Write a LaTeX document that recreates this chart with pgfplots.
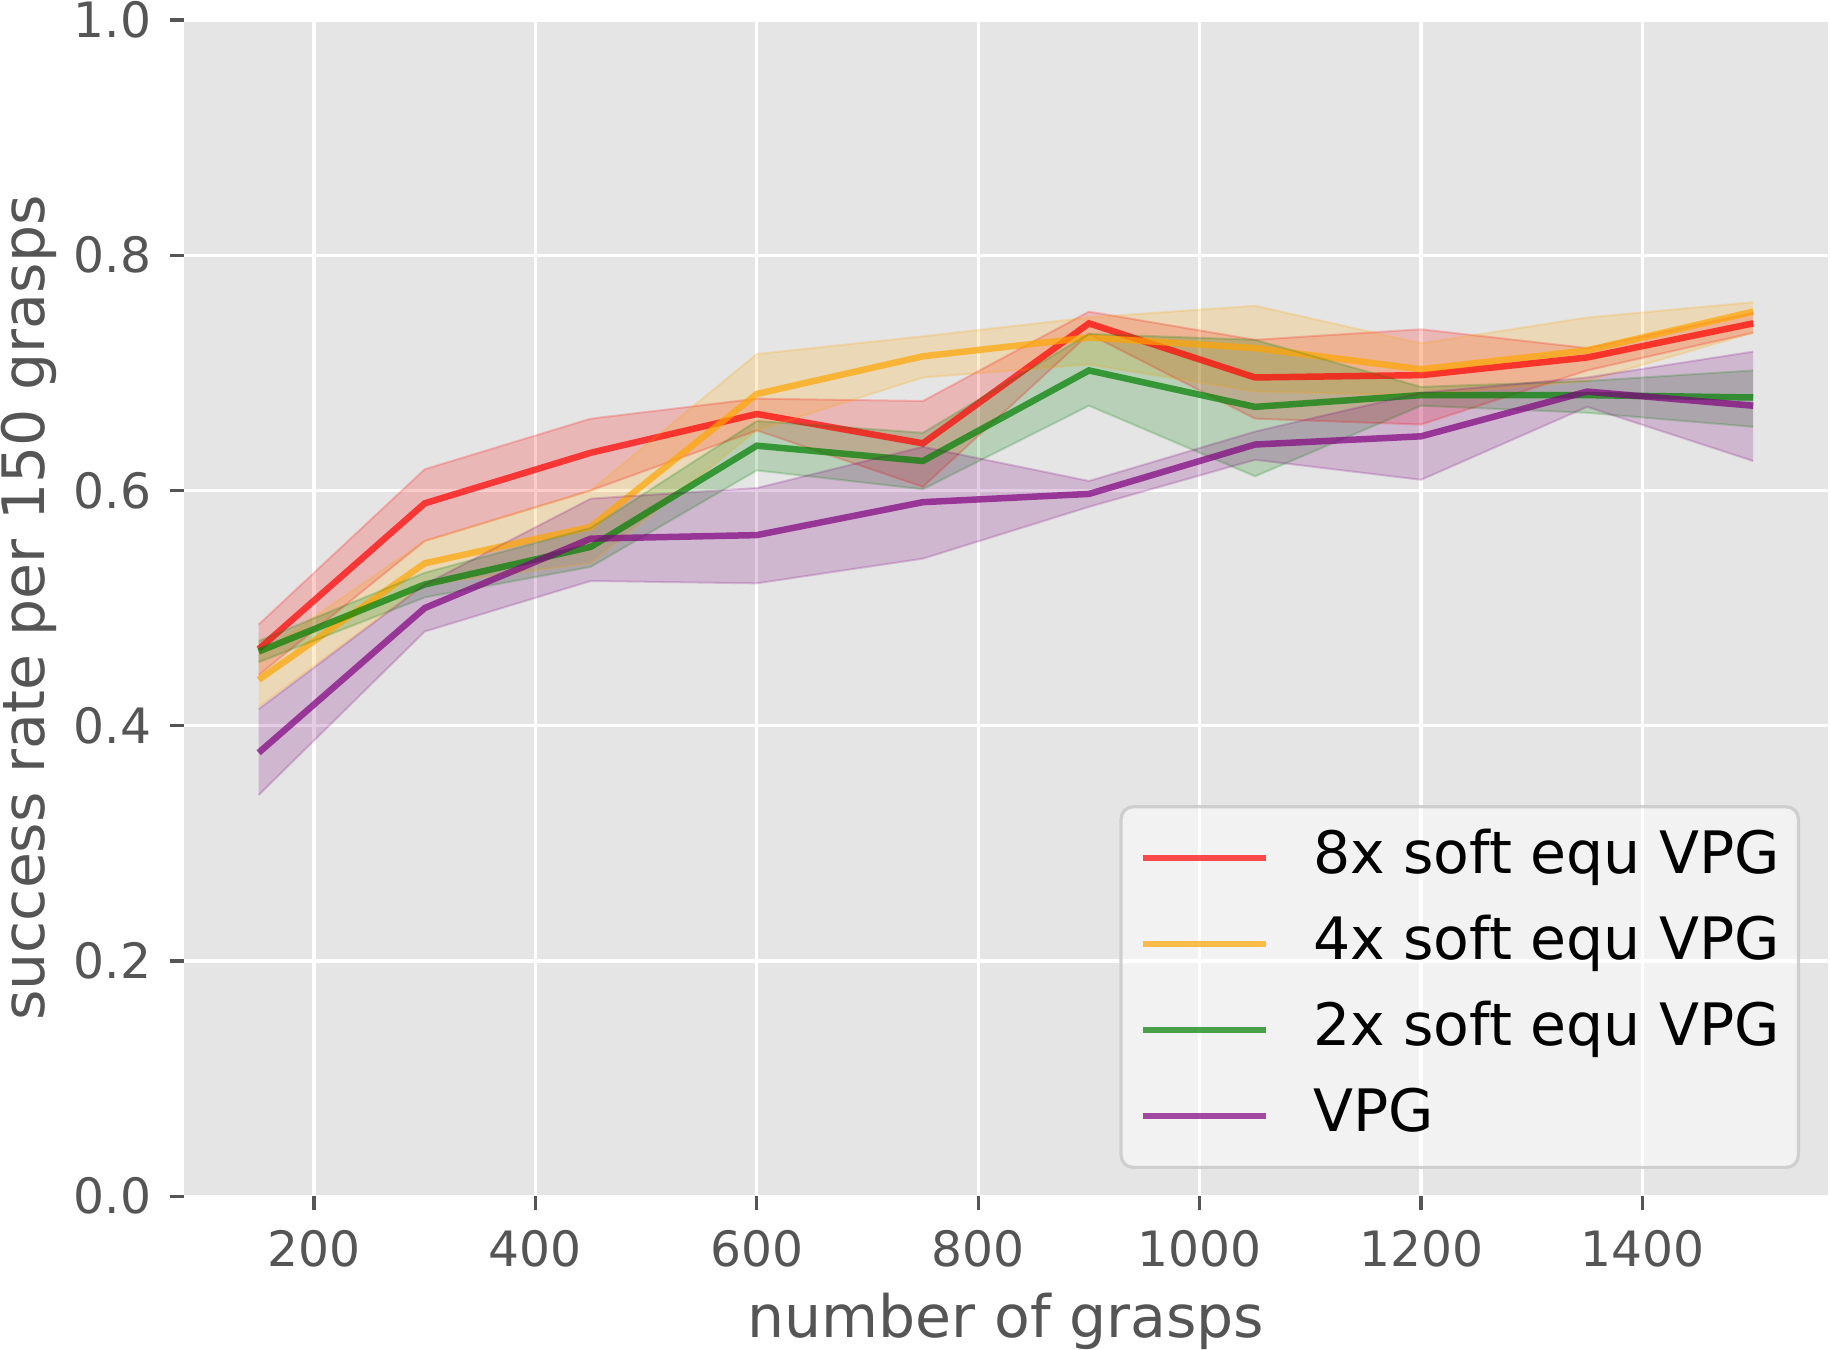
\documentclass[border=0pt]{standalone}
\usepackage{pgfplots}
\pgfplotsset{compat=1.18}
\usepackage{pgfplotstable}
\usepgfplotslibrary{fillbetween}
\usepackage{fontspec}
\setmainfont{DejaVu Sans}
\definecolor{mplred}{RGB}{255,0,0}
\definecolor{mplorange}{RGB}{255,165,0}
\definecolor{mplgreen}{RGB}{0,128,0}
\definecolor{mplpurple}{RGB}{128,0,128}
\definecolor{bggray}{RGB}{229,229,229}
\definecolor{txtgray}{RGB}{85,85,85}
\definecolor{legedge}{RGB}{204,204,204}

\pgfplotstableread{
x mean lo hi
150 0.465 0.443 0.486
300 0.589 0.557 0.618
450 0.632 0.600 0.661
600 0.665 0.651 0.678
750 0.640 0.603 0.676
900 0.742 0.733 0.752
1050 0.696 0.661 0.728
1200 0.698 0.656 0.737
1350 0.713 0.702 0.721
1500 0.742 0.734 0.751
}\redtab
\pgfplotstableread{
x mean lo hi
150 0.439 0.416 0.460
300 0.538 0.520 0.557
450 0.569 0.538 0.600
600 0.682 0.651 0.716
750 0.714 0.696 0.731
900 0.730 0.707 0.747
1050 0.721 0.684 0.757
1200 0.703 0.681 0.725
1350 0.719 0.693 0.747
1500 0.752 0.734 0.760
}\orangetab
\pgfplotstableread{
x mean lo hi
150 0.463 0.454 0.472
300 0.520 0.509 0.530
450 0.552 0.535 0.568
600 0.638 0.617 0.659
750 0.625 0.601 0.649
900 0.702 0.672 0.733
1050 0.671 0.612 0.728
1200 0.681 0.672 0.688
1350 0.681 0.666 0.693
1500 0.679 0.654 0.702
}\greentab
\pgfplotstableread{
x mean lo hi
150 0.377 0.341 0.414
300 0.500 0.480 0.520
450 0.559 0.523 0.593
600 0.562 0.521 0.602
750 0.590 0.542 0.637
900 0.597 0.586 0.608
1050 0.639 0.626 0.650
1200 0.646 0.609 0.683
1350 0.684 0.671 0.696
1500 0.672 0.625 0.718
}\purpletab

\begin{document}
\begin{tikzpicture}
\begin{axis}[
  at={(45.3pt,37.7pt)}, anchor=south west,
  scale only axis, width=404.9pt, height=289.7pt,
  xmin=82.5, xmax=1567.5, ymin=0, ymax=1,
  axis background/.style={fill=bggray},
  axis line style={draw=none},
  grid=major, major grid style={white, line width=0.8pt},
  xtick={200,400,600,800,1000,1200,1400},
  ytick={0,0.2,0.4,0.6,0.8,1.0},
  tick align=outside, major tick length=3.5pt,
  tick pos=left,
  tick style={txtgray, line width=0.8pt},
  scaled ticks=false,
  /pgf/number format/assume math mode=true,
  /pgf/number format/1000 sep={},
  yticklabel style={/pgf/number format/fixed, /pgf/number format/fixed zerofill, /pgf/number format/precision=1},
  tick label style={font=\fontsize{12}{14}\selectfont, text=txtgray},
  xticklabel style={anchor=base, inner sep=0pt, yshift=-13.9pt},
  yticklabel style={anchor=east, inner sep=0pt, xshift=-4.4pt},
  xlabel={number of grasps},
  ylabel={success rate per 150 grasps},
  every axis x label/.style={at={(axis description cs:0.5,-0.1201)}, anchor=base,
     font=\fontsize{14.4}{17}\selectfont, text=txtgray},
  every axis y label/.style={at={(axis description cs:-0.08496,0.5)}, anchor=base, rotate=90,
     font=\fontsize{14.4}{17}\selectfont, text=txtgray},
  legend cell align=left,
  legend image code/.code={\draw[#1, line width=1.6pt] (0pt,0pt) -- (30.5pt,0pt);},
  legend style={
    at={(axis description cs:0.983,0.0231)}, anchor=south east,
    fill=white, fill opacity=0.5, text opacity=1, draw=legedge, draw opacity=0.9,
    line width=0.8pt, rounded corners=3pt,
    font=\fontsize{14.4}{17}\selectfont, text=black,
    inner xsep=4.5pt, inner ysep=5.4pt,
    nodes={inner sep=0pt, text height=11pt, text depth=3.4pt},
    row sep=6.8pt,
    /tikz/every odd column/.append style={column sep=10.7pt},
  },
  band/.style={draw=#1, draw opacity=0.2, line width=0.5pt, forget plot},
  meanline/.style={draw=#1, draw opacity=0.7, line width=1.6pt},
]
% 8x
\addplot[meanline=mplred] table[x=x,y=mean]{\redtab};
\addlegendentry{8x soft equ VPG}
\addplot[band=mplred, name path=rh] table[x=x,y=hi]{\redtab};
\addplot[band=mplred, name path=rl] table[x=x,y=lo]{\redtab};
\addplot[fill=mplred, fill opacity=0.2, forget plot] fill between[of=rh and rl];
% 4x
\addplot[meanline=mplorange] table[x=x,y=mean]{\orangetab};
\addlegendentry{4x soft equ VPG}
\addplot[band=mplorange, name path=oh] table[x=x,y=hi]{\orangetab};
\addplot[band=mplorange, name path=ol] table[x=x,y=lo]{\orangetab};
\addplot[fill=mplorange, fill opacity=0.2, forget plot] fill between[of=oh and ol];
% 2x
\addplot[meanline=mplgreen] table[x=x,y=mean]{\greentab};
\addlegendentry{2x soft equ VPG}
\addplot[band=mplgreen, name path=gh] table[x=x,y=hi]{\greentab};
\addplot[band=mplgreen, name path=gl] table[x=x,y=lo]{\greentab};
\addplot[fill=mplgreen, fill opacity=0.2, forget plot] fill between[of=gh and gl];
% VPG
\addplot[meanline=mplpurple] table[x=x,y=mean]{\purpletab};
\addlegendentry{VPG}
\addplot[band=mplpurple, name path=ph] table[x=x,y=hi]{\purpletab};
\addplot[band=mplpurple, name path=pl] table[x=x,y=lo]{\purpletab};
\addplot[fill=mplpurple, fill opacity=0.2, forget plot] fill between[of=ph and pl];
\end{axis}
\pgfresetboundingbox
\path[use as bounding box] (0,0) rectangle (450.7pt,332.3pt);
\end{tikzpicture}
\end{document}
